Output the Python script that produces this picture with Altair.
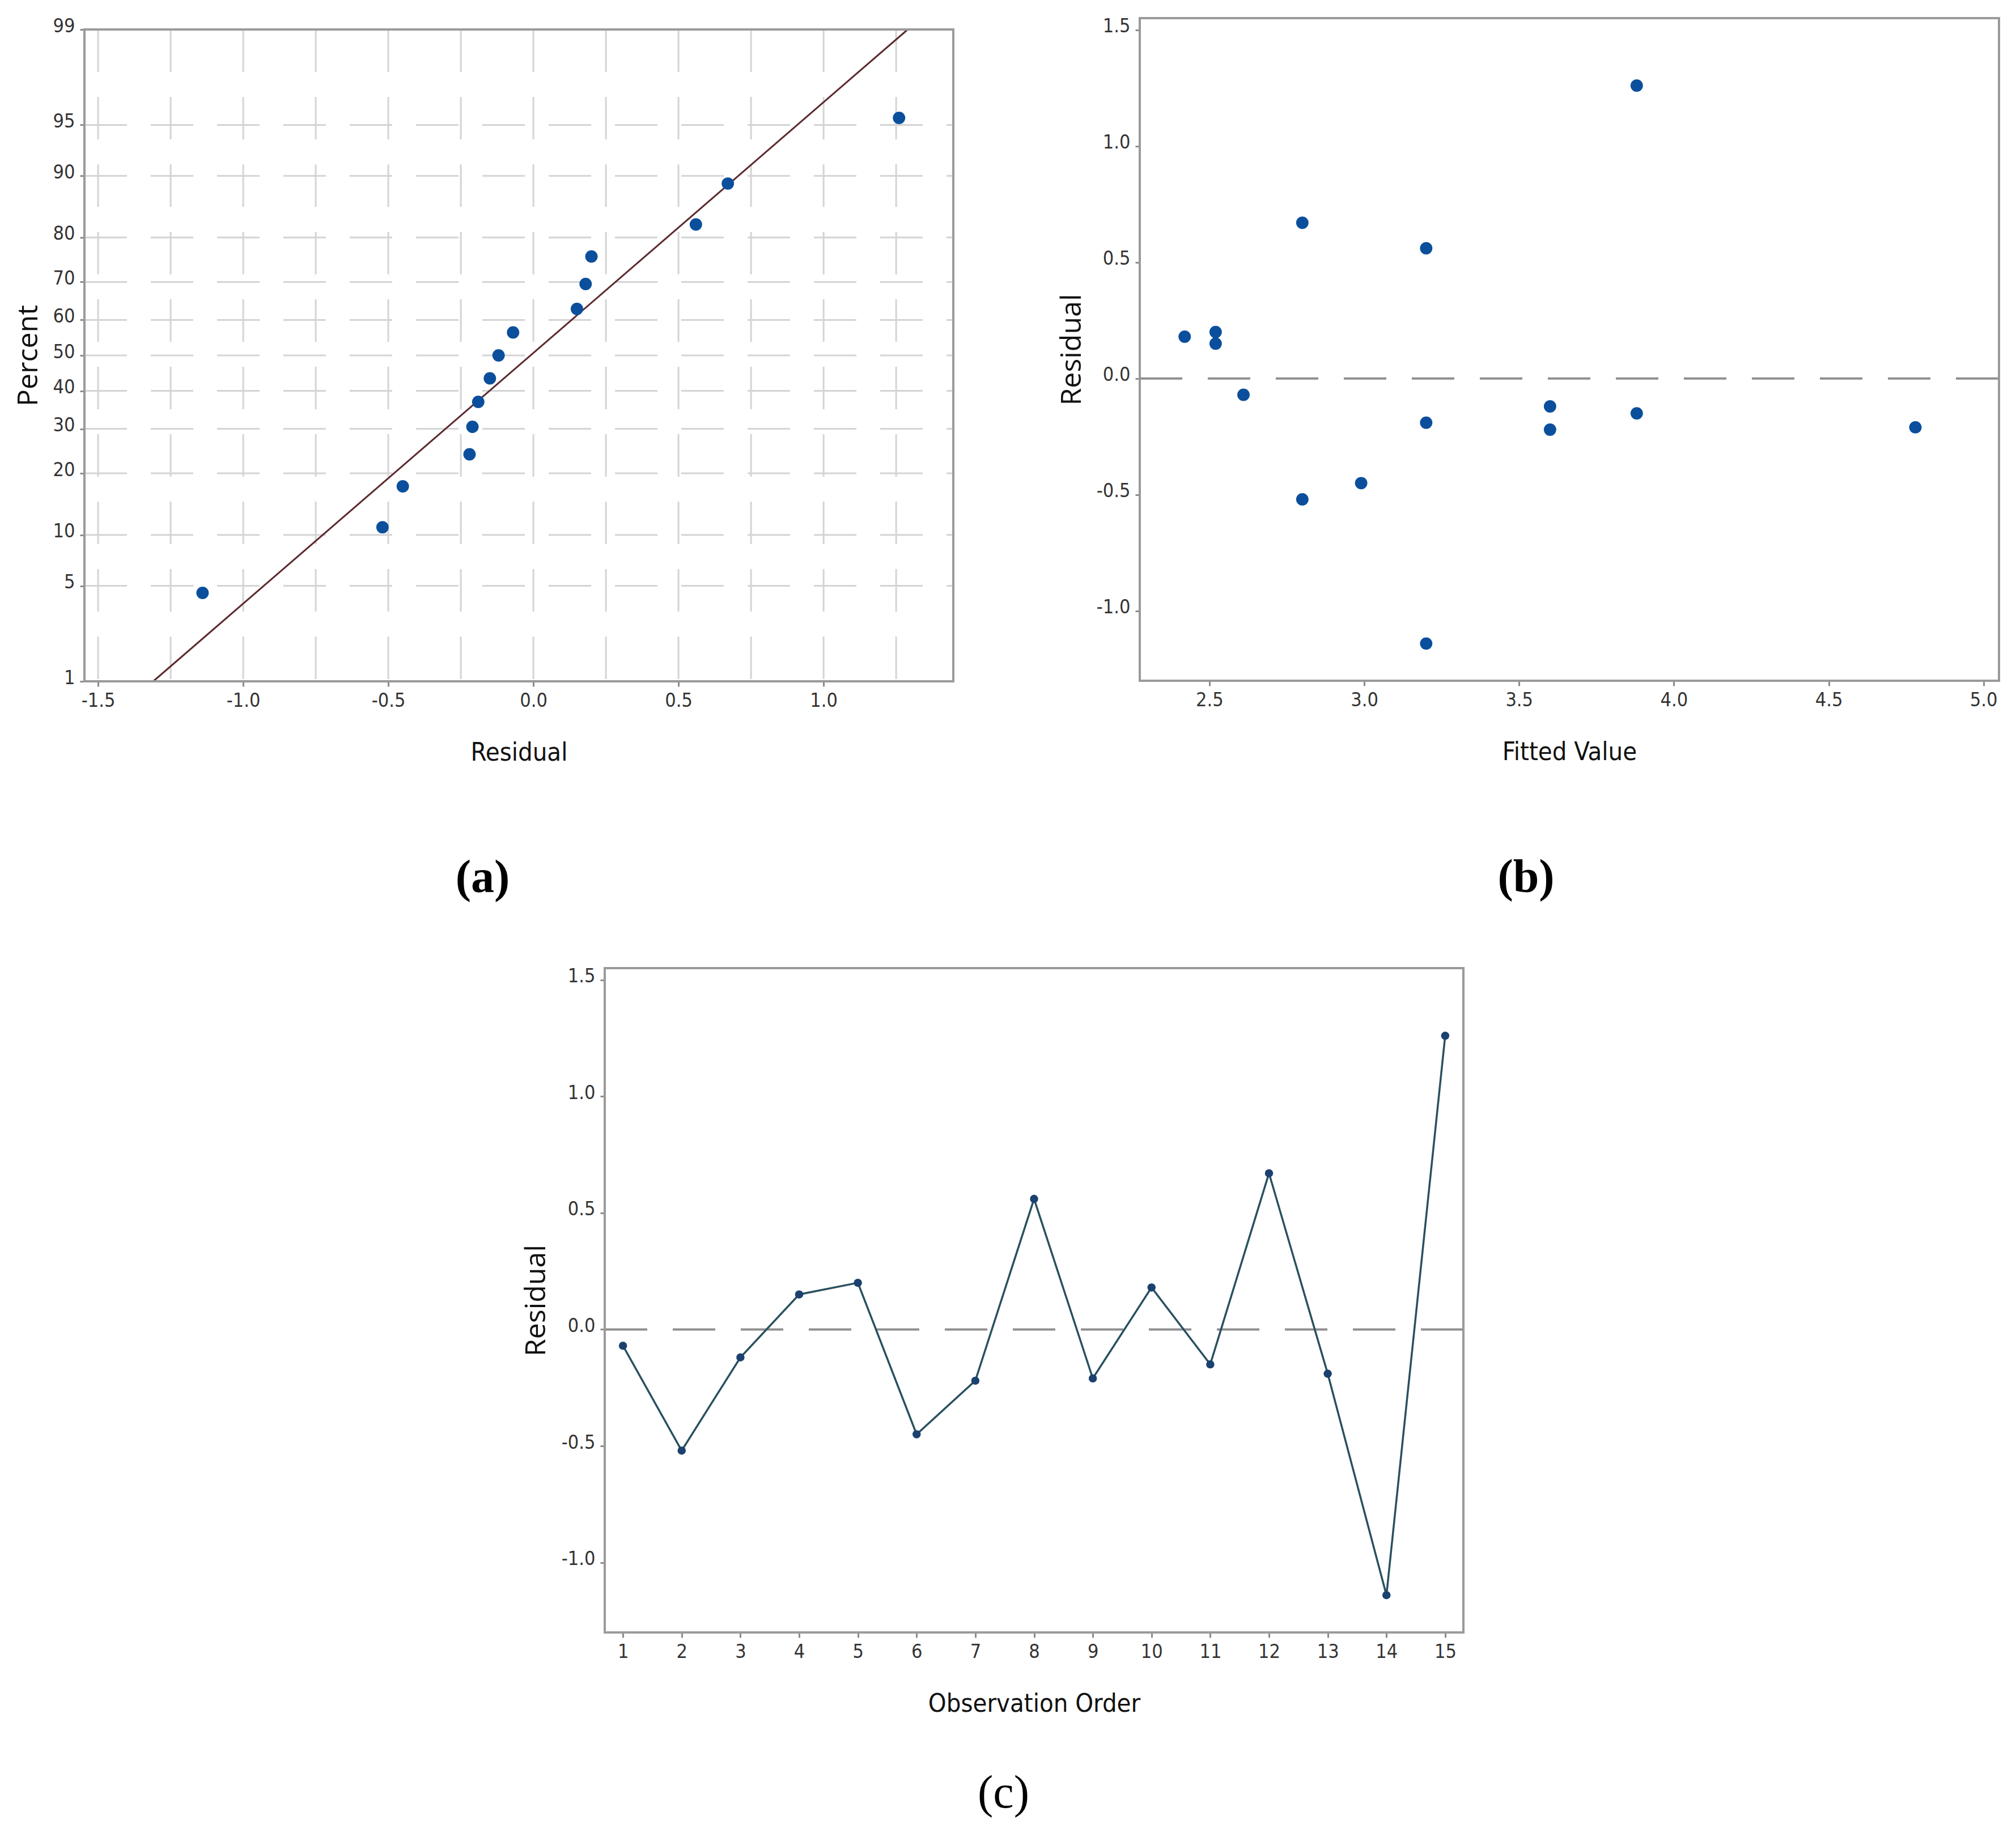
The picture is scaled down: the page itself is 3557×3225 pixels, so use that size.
import altair as alt
import pandas as pd
from statistics import NormalDist

# ---------------- values ----------------
obs_order = [1, 2, 3, 4, 5, 6, 7, 8, 9, 10, 11, 12, 13, 14, 15]
residual = [-0.07, -0.52, -0.12, 0.15, 0.20, -0.45, -0.22, 0.56, -0.21, 0.18, -0.15, 0.67, -0.19, -1.14, 1.26]
fitted = [2.61, 2.80, 3.60, 2.52, 2.52, 2.99, 3.60, 3.20, 4.78, 2.42, 3.88, 2.80, 3.20, 3.20, 3.88]

prob_residual = [-1.14, -0.52, -0.45, -0.22, -0.21, -0.19, -0.15, -0.12, -0.07, 0.15, 0.18, 0.20, 0.56, 0.67, 1.26]
prob_percent = [4.5, 11.0, 17.5, 24.0, 30.5, 37.0, 43.5, 50.0, 56.5, 63.0, 69.5, 76.0, 82.5, 89.0, 95.5]

fit_residual = [-1.31, 1.29]
fit_percent = [1, 99]

percent_ticks = [1, 5, 10, 20, 30, 40, 50, 60, 70, 80, 90, 95, 99]
percent_grid = [5, 10, 20, 30, 40, 50, 60, 70, 80, 90, 95]
residual_ticks = [-1.5, -1.0, -0.5, 0.0, 0.5, 1.0]
residual_grid = [-1.5, -1.25, -1.0, -0.75, -0.5, -0.25, 0.0, 0.25, 0.5, 0.75, 1.0, 1.25]
fitted_ticks = [2.5, 3.0, 3.5, 4.0, 4.5, 5.0]
resid_ticks = [-1.0, -0.5, 0.0, 0.5, 1.0, 1.5]

# ---------------- layout (one canvas, three panels) ----------------
W, H = 3525, 3200
A_XR, A_YR = [141, 1674], [1194, 44]
B_XR, B_YR = [2003, 3519], [1193, 24]
C_XR, C_YR = [1059, 2574], [2872, 1700]

nd = NormalDist()
A_XD = [-1.547, 1.447]
A_YD = [nd.inv_cdf(0.01), nd.inv_cdf(0.99)]
B_XD = [2.275, 5.05]
B_YD = [-1.30, 1.55]
C_XD = [0.69, 15.31]
C_YD = [-1.30, 1.55]
z_ticks = [nd.inv_cdf(p / 100) for p in percent_ticks]

NARROW = "Liberation Sans Narrow, Arial Narrow, DejaVu Sans Condensed, sans-serif"
WIDE = "Open Sans, Noto Sans, sans-serif"
SERIF = "Liberation Serif, Times New Roman, serif"
FRAME = "#9a9a9a"
GRID = "#d4d4d4"
ZERO = "#8f8f8f"
TICK = "#8c8c8c"
FIT = "#5b2a2e"
PT = "#0b4f9c"
LINE_C = "#29505f"
PT_C = "#1b416f"

DEC = "(datum.value < 0 ? '-' : '') + format(abs(datum.value), '.1f')"
PCT = "format(round(cumulativeNormal(datum.value) * 100), 'd')"
INT = "format(datum.value, 'd')"
ZCALC = "quantileNormal(datum.p / 100)"


def sc(d, r):
    return alt.Scale(domain=d, range=r, nice=False, zero=False)


def x_axis(bottom, ticks, title, center, expr):
    return alt.Axis(orient="bottom", offset=bottom - H, values=ticks, labelExpr=expr,
                    title=title, titleX=center, titleY=139, titleBaseline="alphabetic",
                    titleFont=NARROW, titleFontSize=45, titleFontWeight="normal", titleColor="#111111",
                    labelFont=NARROW, labelFontSize=34, labelColor="#333333", labelPadding=8,
                    labelOverlap=False, labelFlush=False, tickColor=TICK, tickWidth=3, tickSize=9,
                    domain=False, grid=False)


def y_axis(left, ticks, title, center, tx, expr):
    return alt.Axis(orient="left", offset=-left, values=ticks, labelExpr=expr,
                    title=title, titleX=tx, titleY=center, titleBaseline="alphabetic",
                    titleFont=WIDE, titleFontSize=50, titleFontWeight="normal", titleColor="#111111",
                    labelFont=NARROW, labelFontSize=34, labelColor="#333333", labelPadding=9,
                    labelOffset=-6, labelOverlap=False, labelFlush=False, tickColor=TICK,
                    tickWidth=3, tickSize=8, domain=False, grid=False)


def cap_axis(bottom, text, cx, ty, weight):
    return alt.Axis(orient="bottom", offset=bottom - H, title=text, titleX=cx, titleY=ty,
                    titleBaseline="alphabetic", titleFont=SERIF, titleFontSize=82,
                    titleFontWeight=weight, titleColor="#000000",
                    labels=False, ticks=False, domain=False, grid=False)


one = pd.DataFrame({"k": [0]})


def frame(xs, ys, xd, yd):
    return alt.Chart(one).mark_rect(fillOpacity=0, stroke=FRAME, strokeWidth=4).encode(
        x=alt.XDatum(datum=xd[0], scale=xs, axis=None),
        x2=alt.X2Datum(datum=xd[1]),
        y=alt.YDatum(datum=yd[0], scale=ys, axis=None),
        y2=alt.Y2Datum(datum=yd[1]),
    )


def zero_rule(xs, ys, xd, axis):
    return alt.Chart(one).mark_rule(color=ZERO, strokeWidth=4, strokeDash=[75, 45]).encode(
        x=alt.XDatum(datum=xd[0], scale=xs, axis=axis),
        x2=alt.X2Datum(datum=xd[1]),
        y=alt.YDatum(datum=0, scale=ys, axis=None),
    )


# ---------------- panel (a): normal probability plot ----------------
xa, ya = sc(A_XD, A_XR), sc(A_YD, A_YR)
a_vgrid = alt.Chart(pd.DataFrame({"g": residual_grid})).mark_rule(
    color=GRID, strokeWidth=3, strokeDash=[75, 44]).encode(
    x=alt.X("g:Q", scale=xa, axis=cap_axis(A_YR[0], "(a)", 843, 371, "bold")),
    y=alt.YDatum(datum=A_YD[1], scale=ya, axis=None),
    y2=alt.Y2Datum(datum=A_YD[0]),
)
a_hgrid = alt.Chart(pd.DataFrame({"p": percent_grid})).transform_calculate(z=ZCALC).mark_rule(
    color=GRID, strokeWidth=3, strokeDash=[75, 42]).encode(
    y=alt.Y("z:Q", scale=ya, axis=None),
    x=alt.XDatum(datum=A_XD[0], scale=xa, axis=None),
    x2=alt.X2Datum(datum=A_XD[1]),
)
a_fit = alt.Chart(pd.DataFrame({"r": fit_residual, "p": fit_percent})).transform_calculate(
    z=ZCALC).mark_line(color=FIT, strokeWidth=3).encode(
    x=alt.X("r:Q", scale=xa, axis=None),
    y=alt.Y("z:Q", scale=ya, axis=None),
)
a_pts = alt.Chart(pd.DataFrame({"r": prob_residual, "p": prob_percent})).transform_calculate(
    z=ZCALC).mark_circle(size=480, color=PT, opacity=1).encode(
    x=alt.X("r:Q", scale=xa, axis=x_axis(A_YR[0], residual_ticks, "Residual",
                                         (A_XR[0] + A_XR[1]) / 2, DEC)),
    y=alt.Y("z:Q", scale=ya, axis=y_axis(A_XR[0], z_ticks, "Percent",
                                         (A_YR[0] + A_YR[1]) / 2, -84, PCT)),
)
a_frame = frame(xa, ya, A_XD, A_YD)

# ---------------- panel (b): residual vs fitted ----------------
xb, yb = sc(B_XD, B_XR), sc(B_YD, B_YR)
b_zero = zero_rule(xb, yb, B_XD, cap_axis(B_YR[0], "(b)", 2684, 371, "bold"))
b_pts = alt.Chart(pd.DataFrame({"f": fitted, "r": residual})).mark_circle(
    size=480, color=PT, opacity=1).encode(
    x=alt.X("f:Q", scale=xb, axis=x_axis(B_YR[0], fitted_ticks, "Fitted Value",
                                         (B_XR[0] + B_XR[1]) / 2, DEC)),
    y=alt.Y("r:Q", scale=yb, axis=y_axis(B_XR[0], resid_ticks, "Residual",
                                         (B_YR[0] + B_YR[1]) / 2, -105, DEC)),
)
b_frame = frame(xb, yb, B_XD, B_YD)

# ---------------- panel (c): residual vs order ----------------
xc, yc = sc(C_XD, C_XR), sc(C_YD, C_YR)
c_zero = zero_rule(xc, yc, C_XD, cap_axis(C_YR[0], "(c)", 1762, 308, "normal"))
c_df = pd.DataFrame({"o": obs_order, "r": residual})
c_line = alt.Chart(c_df).mark_line(color=LINE_C, strokeWidth=3.5).encode(
    x=alt.X("o:Q", scale=xc, axis=None),
    y=alt.Y("r:Q", scale=yc, axis=None),
)
c_pts = alt.Chart(c_df).mark_circle(size=210, color=PT_C, opacity=1).encode(
    x=alt.X("o:Q", scale=xc, axis=x_axis(C_YR[0], obs_order, "Observation Order",
                                         (C_XR[0] + C_XR[1]) / 2, INT)),
    y=alt.Y("r:Q", scale=yc, axis=y_axis(C_XR[0], resid_ticks, "Residual",
                                         (C_YR[0] + C_YR[1]) / 2, -106, DEC)),
)
c_frame = frame(xc, yc, C_XD, C_YD)

chart = alt.layer(
    a_vgrid, a_hgrid, a_fit, a_pts, a_frame,
    b_zero, b_pts, b_frame,
    c_zero, c_line, c_pts, c_frame,
).resolve_scale(x="independent", y="independent").resolve_axis(
    x="independent", y="independent"
).properties(width=W, height=H, padding=0, background="white").configure_view(strokeOpacity=0)

chart.save("out.html", embed_options={"renderer": "svg", "actions": False})
